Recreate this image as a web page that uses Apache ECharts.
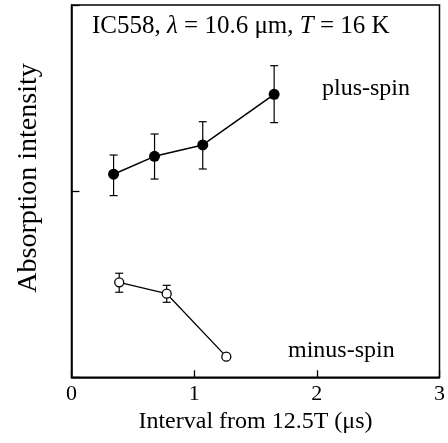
<!DOCTYPE html>
<html><head><meta charset="utf-8">
<script src="https://cdn.jsdelivr.net/npm/echarts@6/dist/echarts.min.js"></script>
<style>html,body{margin:0;padding:0;background:#fff;overflow:hidden}#c{width:448px;height:443px}</style>
</head><body><div id="c"></div>
<script>
const plusX = [0.343, 0.677, 1.07, 1.652];
const plusY = [1.091, 1.187, 1.248, 1.52];
const plusLow = [0.976, 1.065, 1.119, 1.368];
const plusHigh = [1.194, 1.307, 1.373, 1.674];
const minusX = [0.389, 0.776, 1.262];
const minusY = [0.510, 0.449, 0.111];
const minusLow = [0.457, 0.403, 0.111];
const minusHigh = [0.559, 0.494, 0.111];
const xTicks = [0, 1, 2, 3];

const F = '"Liberation Serif","DejaVu Serif",serif';
const chart = echarts.init(document.getElementById('c'));

function errSeries(xs, lo, hi) {
  return {
    type: 'custom',
    data: xs.map((x, i) => [x, lo[i], hi[i]]),
    z: 1,
    renderItem: function (params, api) {
      const p1 = api.coord([api.value(0), api.value(1)]);
      const p2 = api.coord([api.value(0), api.value(2)]);
      const w = 4;
      const st = { stroke: '#000', lineWidth: 1.2 };
      return { type: 'group', children: [
        { type: 'line', shape: { x1: p1[0], y1: p1[1], x2: p2[0], y2: p2[1] }, style: st },
        { type: 'line', shape: { x1: p1[0]-w, y1: p1[1], x2: p1[0]+w, y2: p1[1] }, style: st },
        { type: 'line', shape: { x1: p2[0]-w, y1: p2[1], x2: p2[0]+w, y2: p2[1] }, style: st }
      ]};
    }
  };
}

chart.setOption({
  animation: false,
  grid: { left: 71.5, right: 2, top: 5, bottom: 65.7, show: true, borderColor: '#000', borderWidth: 1.5 },
  xAxis: {
    type: 'value', min: 0, max: 3, interval: 1,
    name: 'Interval from 12.5T (μs)', nameLocation: 'middle', nameGap: 15,
    nameTextStyle: { fontFamily: F, fontSize: 24, color: '#000', verticalAlign: 'top' },
    axisLine: { show: true, lineStyle: { color: '#000', width: 1.5 } },
    axisTick: { show: true, inside: true, length: 7, lineStyle: { color: '#000', width: 1.3 } },
    axisLabel: { fontFamily: F, fontSize: 22, color: '#000', margin: 6,
      formatter: v => xTicks.includes(v) ? String(v) : '' },
    splitLine: { show: false }
  },
  yAxis: {
    type: 'value', min: 0, max: 2, interval: 1,
    axisLine: { show: true, lineStyle: { color: '#000', width: 1.5 } },
    axisTick: { show: true, inside: true, length: 8, lineStyle: { color: '#000', width: 1.3 },
      interval: function(i, v) { return v === 1; } },
    axisLabel: { show: false },
    splitLine: { show: false }
  },
  graphic: [
    { type: 'text', x: 29, y: 178, rotation: Math.PI / 2, style: {
      text: 'Absorption intensity', fontFamily: F, fontSize: 28, fill: '#000',
      align: 'center', verticalAlign: 'middle' } },
    { type: 'text', x: 92, y: 26, style: {
      text: '{n|IC558, }{i|λ}{n| = 10.6 μm, }{i|T}{n| = 16 K}',
      verticalAlign: 'middle',
      rich: { n: { fontFamily: F, fontSize: 25, fill: '#000' },
              i: { fontFamily: F, fontSize: 25, fontStyle: 'italic', fill: '#000' } } } },
    { type: 'text', x: 322, y: 89, style: { text: 'plus-spin', fontFamily: F, fontSize: 24, fill: '#000', verticalAlign: 'middle' } },
    { type: 'text', x: 288, y: 351, style: { text: 'minus-spin', fontFamily: F, fontSize: 24, fill: '#000', verticalAlign: 'middle' } }
  ],
  series: [
    errSeries(plusX, plusLow, plusHigh),
    errSeries(minusX, minusLow, minusHigh),
    { type: 'line', data: plusX.map((x, i) => [x, plusY[i]]), symbol: 'circle', symbolSize: 11,
      lineStyle: { color: '#000', width: 1.5 }, itemStyle: { color: '#000' }, z: 3 },
    { type: 'line', data: minusX.map((x, i) => [x, minusY[i]]), symbol: 'circle', symbolSize: 9,
      lineStyle: { color: '#000', width: 1.3 }, itemStyle: { color: '#fff', borderColor: '#000', borderWidth: 1.3 }, z: 3 }
  ]
});
</script></body></html>
